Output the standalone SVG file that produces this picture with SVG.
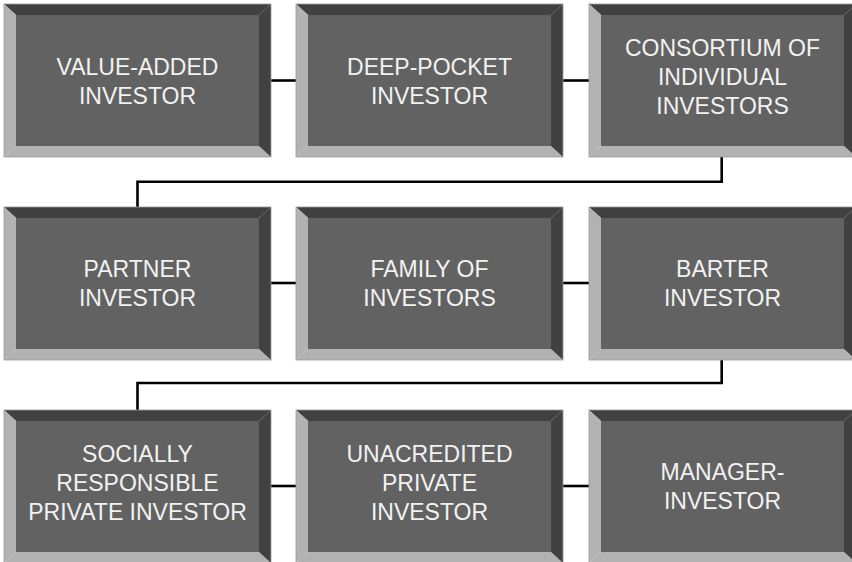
<svg xmlns="http://www.w3.org/2000/svg" xmlns:xlink="http://www.w3.org/1999/xlink" width="852" height="562" viewBox="0 0 852 562">
<style>
.dark{fill:#414141}
.light{fill:#b2b2b2}
.face{fill:#626262}
.edge{fill:none;stroke:#9a9a9a;stroke-width:0.8}
.lbl{font-family:"Liberation Sans",Arial,sans-serif;font-size:23px;fill:#f2f2f2;text-anchor:middle}
.conn{fill:none;stroke:#000;stroke-width:2.6}
</style>
<defs>
<g id="bevel">
<rect class="face" x="12" y="11" width="243" height="131"/>
<polygon class="dark" points="0,0 267,0 255,11 12,11"/>
<polygon class="light" points="0,0 12,11 12,142 0,153"/>
<polygon class="light" points="0,153 12,142 255,142 267,153"/>
<polygon class="dark" points="267,0 267,153 255,142 255,11"/>
<rect class="edge" x="0" y="0" width="267" height="153"/>
</g>
</defs>
<rect width="852" height="562" fill="#fff"/>
<g id="connectors">
<line class="conn" x1="271" y1="80.5" x2="296" y2="80.5"/>
<line class="conn" x1="563" y1="80.5" x2="589" y2="80.5"/>
<polyline class="conn" points="721.7,157 721.7,181.7 137.5,181.7 137.5,207"/>
<line class="conn" x1="271" y1="283" x2="296" y2="283"/>
<line class="conn" x1="563" y1="283" x2="589" y2="283"/>
<polyline class="conn" points="721.7,359 721.7,383 137.5,383 137.5,410"/>
<line class="conn" x1="271" y1="486" x2="296" y2="486"/>
<line class="conn" x1="563" y1="486" x2="589" y2="486"/>
</g>
<g id="n1" transform="translate(4,4)"><use xlink:href="#bevel"/>
<text class="lbl" x="133.5" y="71">VALUE-ADDED</text><text class="lbl" x="133.5" y="100">INVESTOR</text></g>
<g id="n2" transform="translate(296,4)"><use xlink:href="#bevel"/>
<text class="lbl" x="133.5" y="71">DEEP-POCKET</text><text class="lbl" x="133.5" y="100">INVESTOR</text></g>
<g id="n3" transform="translate(589,4)"><use xlink:href="#bevel"/>
<text class="lbl" x="133.5" y="52">CONSORTIUM OF</text><text class="lbl" x="133.5" y="81">INDIVIDUAL</text><text class="lbl" x="133.5" y="110">INVESTORS</text></g>
<g id="n4" transform="translate(4,207)"><use xlink:href="#bevel"/>
<text class="lbl" x="133.5" y="70">PARTNER</text><text class="lbl" x="133.5" y="99">INVESTOR</text></g>
<g id="n5" transform="translate(296,207)"><use xlink:href="#bevel"/>
<text class="lbl" x="133.5" y="70">FAMILY OF</text><text class="lbl" x="133.5" y="99">INVESTORS</text></g>
<g id="n6" transform="translate(589,207)"><use xlink:href="#bevel"/>
<text class="lbl" x="133.5" y="70">BARTER</text><text class="lbl" x="133.5" y="99">INVESTOR</text></g>
<g id="n7" transform="translate(4,410)"><use xlink:href="#bevel"/>
<text class="lbl" x="133.5" y="52">SOCIALLY</text><text class="lbl" x="133.5" y="81">RESPONSIBLE</text><text class="lbl" x="133.5" y="110">PRIVATE INVESTOR</text></g>
<g id="n8" transform="translate(296,410)"><use xlink:href="#bevel"/>
<text class="lbl" x="133.5" y="52">UNACREDITED</text><text class="lbl" x="133.5" y="81">PRIVATE</text><text class="lbl" x="133.5" y="110">INVESTOR</text></g>
<g id="n9" transform="translate(589,410)"><use xlink:href="#bevel"/>
<text class="lbl" x="133.5" y="70">MANAGER-</text><text class="lbl" x="133.5" y="99">INVESTOR</text></g>
</svg>
